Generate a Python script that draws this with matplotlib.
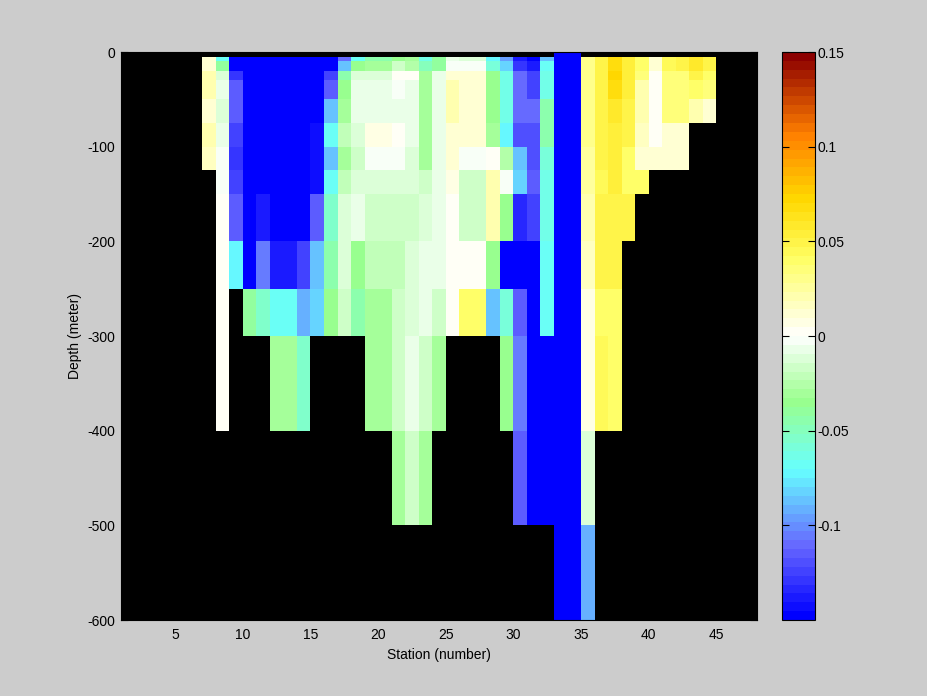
import numpy as np
import matplotlib
matplotlib.use('Agg')
import matplotlib.pyplot as plt
from matplotlib.colors import LinearSegmentedColormap

plt.rcParams['axes.unicode_minus'] = False
plt.rcParams['font.family'] = ['Liberation Sans', 'DejaVu Sans']

nan = np.nan

# grid: station cell edges and depth levels (m)
station_edges = np.arange(1, 49)
depth_edges = [0, 5, 10, 20, 30, 50, 75, 100, 125, 150, 200, 250, 300, 400, 500, 600]

# anomaly profile of each station, first value is the 0-5 m cell
profiles = {
    7:  [nan, 0.014, 0.014, 0.023, 0.023, 0.014, 0.021, 0.018],
    8:  [nan, -0.068, -0.04, -0.012, -0.006, -0.012, -0.006, -0.003, -0.003, 0.003, 0.003, 0.003, 0.003],
    9:  [nan, -0.15, -0.15, -0.131, -0.113, -0.113, -0.122, -0.127, -0.122, -0.115, -0.073],
    10: [nan, -0.15, -0.15, -0.15, -0.15, -0.15, -0.15, -0.15, -0.15, -0.15, -0.15, -0.04],
    11: [nan, -0.15, -0.15, -0.15, -0.15, -0.15, -0.15, -0.15, -0.15, -0.14, -0.106, -0.056],
    12: [nan, -0.15, -0.15, -0.15, -0.15, -0.15, -0.15, -0.15, -0.15, -0.15, -0.14, -0.068, -0.029],
    13: [nan, -0.15, -0.15, -0.15, -0.15, -0.15, -0.15, -0.15, -0.15, -0.15, -0.14, -0.068, -0.029],
    14: [nan, -0.15, -0.15, -0.15, -0.15, -0.15, -0.15, -0.15, -0.15, -0.15, -0.126, -0.093, -0.056],
    15: [nan, -0.15, -0.15, -0.15, -0.15, -0.15, -0.144, -0.144, -0.144, -0.117, -0.087, -0.082],
    16: [nan, -0.15, -0.15, -0.122, -0.113, -0.087, -0.068, -0.087, -0.068, -0.056, -0.046, -0.036],
    17: [nan, -0.111, -0.087, -0.046, -0.036, -0.032, -0.022, -0.032, -0.022, -0.011, -0.012, -0.0175],
    18: [nan, -0.068, -0.036, -0.012, -0.006, -0.006, -0.012, -0.0175, -0.012, -0.006, -0.036, -0.046],
    19: [nan, -0.045, -0.032, -0.012, -0.006, -0.006, 0.009, -0.002, -0.012, -0.016, -0.02, -0.029, -0.029],
    20: [nan, -0.045, -0.032, -0.012, -0.006, -0.006, 0.009, -0.002, -0.012, -0.016, -0.02, -0.029, -0.029],
    21: [nan, -0.036, -0.0175, 0.003, -0.003, -0.006, 0.003, -0.002, -0.012, -0.016, -0.02, -0.0175, -0.0175, -0.029],
    22: [nan, -0.029, -0.025, 0.003, -0.006, -0.006, -0.006, -0.012, -0.012, -0.016, -0.014, -0.012, -0.006, -0.0175],
    23: [nan, -0.065, -0.05, -0.029, -0.029, -0.029, -0.029, -0.029, -0.0175, -0.012, -0.006, -0.006, -0.0175, -0.029],
    24: [nan, -0.04, -0.04, -0.006, -0.006, -0.006, -0.006, -0.006, -0.006, -0.006, -0.006, -0.0175, -0.029],
    25: [nan, -0.006, -0.003, 0.014, 0.023, 0.023, 0.014, 0.014, 0.009, 0.004, 0.001, 0.003],
    26: [nan, -0.012, -0.003, 0.014, 0.014, 0.014, 0.014, -0.002, -0.0175, -0.016, 0.004, 0.041],
    27: [nan, -0.012, -0.003, 0.014, 0.014, 0.014, 0.014, -0.002, -0.0175, -0.016, 0.004, 0.041],
    28: [nan, -0.073, -0.058, -0.036, -0.036, -0.036, -0.029, 0.003, 0.023, 0.023, -0.036, -0.087],
    29: [nan, -0.096, -0.082, -0.062, -0.062, -0.065, -0.073, -0.025, -0.003, -0.036, -0.15, -0.058, -0.036],
    30: [nan, -0.138, -0.128, -0.109, -0.109, -0.109, -0.119, -0.087, -0.082, -0.135, -0.15, -0.113, -0.106, -0.113],
    31: [nan, -0.146, -0.138, -0.123, -0.123, -0.109, -0.119, -0.119, -0.113, -0.125, -0.15, -0.15, -0.15, -0.15],
    32: [nan, -0.087, -0.068, -0.062, -0.062, -0.046, -0.046, -0.058, -0.062, -0.062, -0.068, -0.068, -0.15, -0.15],
    33: [-0.15, -0.15, -0.15, -0.15, -0.15, -0.15, -0.15, -0.15, -0.15, -0.15, -0.15, -0.15, -0.15, -0.15, -0.15],
    34: [-0.15, -0.15, -0.15, -0.15, -0.15, -0.15, -0.15, -0.15, -0.15, -0.15, -0.15, -0.15, -0.15, -0.15, -0.15],
    35: [nan, 0.031, 0.031, 0.031, 0.031, 0.031, 0.031, 0.027, 0.027, 0.023, 0.018, 0.009, 0.009, -0.012, -0.093],
    36: [nan, 0.048, 0.048, 0.048, 0.048, 0.048, 0.048, 0.048, 0.044, 0.047, 0.047, 0.041, 0.044],
    37: [nan, 0.07, 0.07, 0.074, 0.066, 0.06, 0.055, 0.055, 0.055, 0.05, 0.049, 0.041, 0.041],
    38: [nan, 0.055, 0.055, 0.055, 0.055, 0.05, 0.05, 0.041, 0.041, 0.047],
    39: [nan, 0.041, 0.041, 0.034, 0.023, 0.023, 0.018, 0.014, 0.041],
    40: [nan, 0.014, 0.014, 0.003, 0.003, 0.003, 0.003, 0.014],
    41: [nan, 0.044, 0.044, 0.034, 0.034, 0.034, 0.014, 0.014],
    42: [nan, 0.048, 0.048, 0.034, 0.034, 0.034, 0.014, 0.014],
    43: [nan, 0.057, 0.057, 0.048, 0.041, 0.023],
    44: [nan, 0.05, 0.05, 0.041, 0.034, 0.014],
}

cbar_ticks = [-0.1, -0.05, 0, 0.05, 0.1, 0.15]
cbar_labels = ['-0.1', '-0.05', '0', '0.05', '0.1', '0.15']

# build the section grid (depth x station)
grid = np.full((len(depth_edges) - 1, len(station_edges) - 1), np.nan)
for st, prof in profiles.items():
    grid[:len(prof), st - 1] = prof

# blue-cyan-green-white-yellow-red map, 64 steps
vmin, vmax = -0.15, 0.15
anchors = [(-0.15, (0, 0, 1)), (-0.113, (0.4, 0.4, 1)), (-0.099, (0.4, 0.6, 1)),
           (-0.072, (0.4, 1, 1)), (-0.055, (0.5, 1, 0.8)), (-0.035, (0.6, 1, 0.55)),
           (0.0, (1, 1, 1)), (0.041, (1, 1, 0.4)), (0.073, (1, 0.85, 0)),
           (0.108, (1, 0.5, 0)), (0.15, (0.55, 0, 0))]
cmap = LinearSegmentedColormap.from_list(
    'anom', [((v - vmin) / (vmax - vmin), c) for v, c in anchors], N=64)

fig = plt.figure(figsize=(9.28, 6.96), dpi=100, facecolor='#cccccc')
ax = fig.add_axes([121 / 928, 76 / 696, 636 / 928, 568 / 696])
ax.set_facecolor('black')
ax.set_axisbelow(True)  # ticks under the cells, like matlab's layer=bottom
mesh = ax.pcolormesh(station_edges, -np.array(depth_edges), np.ma.masked_invalid(grid),
                     cmap=cmap, vmin=vmin, vmax=vmax)
ax.set_xlim(1, 48)
ax.set_ylim(-600, 0)
ax.set_xticks(range(5, 50, 5))
ax.set_yticks(range(-600, 1, 100))
ax.tick_params(direction='in', length=5, top=True, right=True, labelsize=10)
ax.tick_params(axis='x', pad=6)
ax.tick_params(axis='y', pad=4)
ax.set_xlabel('Station (number)', fontsize=10, labelpad=4)
ax.set_ylabel('Depth (meter)', fontsize=10)

cax = fig.add_axes([782 / 928, 76 / 696, 33 / 928, 568 / 696])
cb = fig.colorbar(mesh, cax=cax, ticks=cbar_ticks)
cb.ax.set_yticklabels(cbar_labels)
cax.tick_params(direction='in', length=5, left=True, right=True, labelsize=10, pad=2)

fig.savefig('out.png', dpi=100, facecolor=fig.get_facecolor())
